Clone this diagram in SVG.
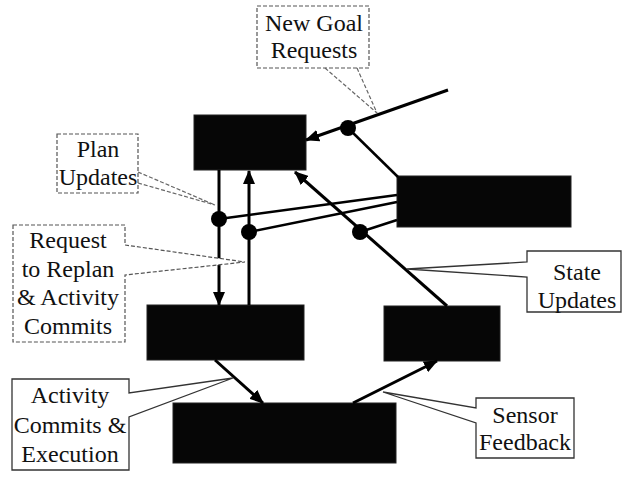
<svg xmlns="http://www.w3.org/2000/svg" width="622" height="478" viewBox="0 0 622 478">
<style>
.box{fill:#060606;stroke:#222;stroke-width:1}
.lbl{font-family:"Liberation Serif","Times New Roman",serif;font-size:24px;fill:#111;text-anchor:middle}
.dash{fill:#fff;stroke:#555;stroke-width:1.2;stroke-dasharray:4 2}
.call{fill:#fff;stroke:#333;stroke-width:1.3}
.ptr{fill:none;stroke:#666;stroke-width:1.2;stroke-dasharray:4 2}
.flow{fill:none;stroke:#000;stroke-width:3}
.link{fill:none;stroke:#000;stroke-width:2.5}
.dot{fill:#000}
</style>
<defs>
<marker id="ah" viewBox="0 0 14 12" refX="13" refY="6" markerUnits="userSpaceOnUse" markerWidth="14" markerHeight="12" orient="auto">
<path d="M0,0 L14,6 L0,12 z" fill="#000"/>
</marker>
</defs>
<rect width="622" height="478" fill="#fff"/>

<g id="nodes">
<g id="planner"><rect class="box" x="194" y="115" width="112" height="55"/></g>
<g id="sync"><rect class="box" x="397" y="176" width="174" height="51"/></g>
<g id="executive"><rect class="box" x="147" y="305" width="157" height="55"/></g>
<g id="state-estimator"><rect class="box" x="384" y="306" width="116" height="55"/></g>
<g id="hardware"><rect class="box" x="173" y="403" width="223" height="60"/></g>
</g>

<g id="connectors">
<line class="flow" x1="448" y1="90" x2="306" y2="140" marker-end="url(#ah)"/>
<line class="flow" x1="219" y1="170" x2="219" y2="305" marker-end="url(#ah)"/>
<line class="flow" x1="249" y1="305" x2="249" y2="171" marker-end="url(#ah)"/>
<line class="flow" x1="447" y1="306" x2="295" y2="172" marker-end="url(#ah)"/>
<line class="flow" x1="215" y1="360" x2="263" y2="403" marker-end="url(#ah)"/>
<line class="flow" x1="353" y1="403" x2="437" y2="361" marker-end="url(#ah)"/>
<line class="link" x1="348" y1="128" x2="398" y2="177"/>
<line class="link" x1="219" y1="219" x2="397" y2="195"/>
<line class="link" x1="249" y1="232" x2="397" y2="202"/>
<line class="link" x1="360" y1="232" x2="397" y2="220"/>
<circle class="dot" cx="348" cy="128" r="8"/>
<circle class="dot" cx="219" cy="219" r="8"/>
<circle class="dot" cx="249" cy="232" r="8"/>
<circle class="dot" cx="360" cy="232" r="8"/>
</g>

<g id="callouts">
<g id="new-goal">
<rect class="dash" x="257" y="6" width="112" height="62"/>
<path class="ptr" d="M325,68 L377,113 M357,68 L377,113"/>
<text class="lbl" x="314" y="31">New Goal</text>
<text class="lbl" x="314" y="58">Requests</text>
</g>
<g id="plan-updates">
<rect class="dash" x="57" y="134" width="81" height="59"/>
<path class="ptr" d="M138,172 L215,205 M138,183 L215,205"/>
<text class="lbl" x="98" y="157">Plan</text>
<text class="lbl" x="98" y="185">Updates</text>
</g>
<g id="request-replan">
<path class="dash" d="M13,225 H125 V245 L245,262 L125,275 V342 H13 Z"/>
<text class="lbl" x="68" y="248">Request</text>
<text class="lbl" x="68" y="277">to Replan</text>
<text class="lbl" x="68" y="305">&amp; Activity</text>
<text class="lbl" x="68" y="334">Commits</text>
</g>
<g id="state-updates">
<path class="call" d="M527,251 H621 V312 H527 V277 L407,269 L527,262 Z"/>
<text class="lbl" x="577" y="280">State</text>
<text class="lbl" x="577" y="308">Updates</text>
</g>
<g id="activity-commits">
<path class="call" d="M12,379 H129 V393 L233,378 L129,417 V470 H12 Z"/>
<text class="lbl" x="70" y="403">Activity</text>
<text class="lbl" x="70" y="433">Commits &amp;</text>
<text class="lbl" x="70" y="462">Execution</text>
</g>
<g id="sensor-feedback">
<path class="call" d="M476,398 H574 V458 H476 V423 L383,392 L476,408 Z"/>
<text class="lbl" x="525" y="423">Sensor</text>
<text class="lbl" x="525" y="450">Feedback</text>
</g>
</g>
</svg>
